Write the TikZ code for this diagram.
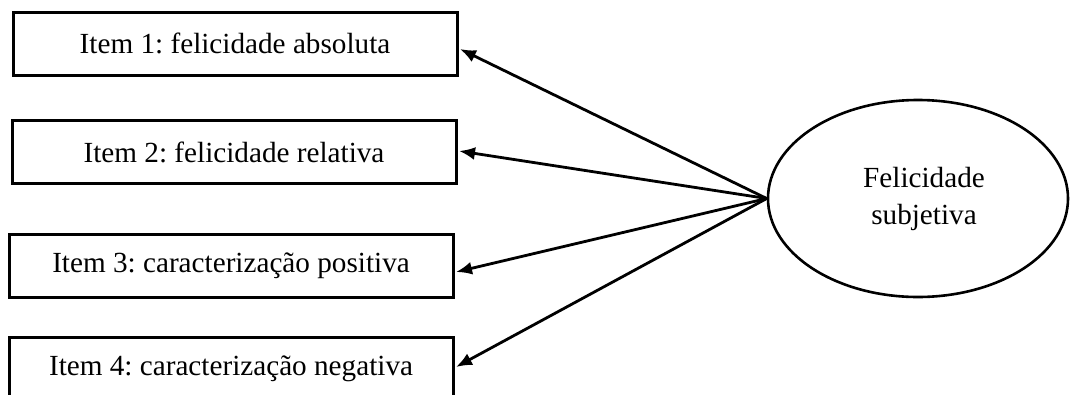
\documentclass[tikz,border=0pt]{standalone}
\usepackage{fontspec}
\setmainfont{Liberation Serif}
\usetikzlibrary{shapes.geometric,arrows.meta,calc}
\begin{document}
\frenchspacing
\begin{tikzpicture}[x=1pt,y=-1pt,
  itembox/.style={draw, line width=3pt, minimum width=444pt, minimum height=63pt, inner sep=0pt,
    font=\fontsize{29.2}{37}\selectfont},
  latent/.style={draw, ellipse, line width=2.6pt, minimum width=300pt, minimum height=197pt, inner sep=0pt,
    align=center, font=\fontsize{29.2}{37}\selectfont},
  conn/.style={line width=2.8pt, -{Latex[length=16pt,width=13pt]}}]
\useasboundingbox (0,0) rectangle (1070,394);
\node[itembox] (b1) at (235,43.5) {Item 1: felicidade absoluta};
\node[itembox] (b2) at (234,152) {Item 2: felicidade relativa};
\node[itembox] (b3) at (231,265.5) {Item 3: caracterização positiva};
\node[itembox] (b4) at (231,368.5) {Item 4: caracterização negativa};
\node[latent] (fs) at (918,198.5) {\hspace*{12pt}Felicidade\\\hspace*{12pt}subjetiva};
\draw[conn] (fs.west) -- ($(b1.east)+(1.5,5.5)$);
\draw[conn] (fs.west) -- ($(b2.east)+(1.5,-1)$);
\draw[conn] (fs.west) -- ($(b3.east)+(1.5,6.5)$);
\draw[conn] (fs.west) -- ($(b4.east)+(1.5,-1.5)$);
\end{tikzpicture}
\end{document}
